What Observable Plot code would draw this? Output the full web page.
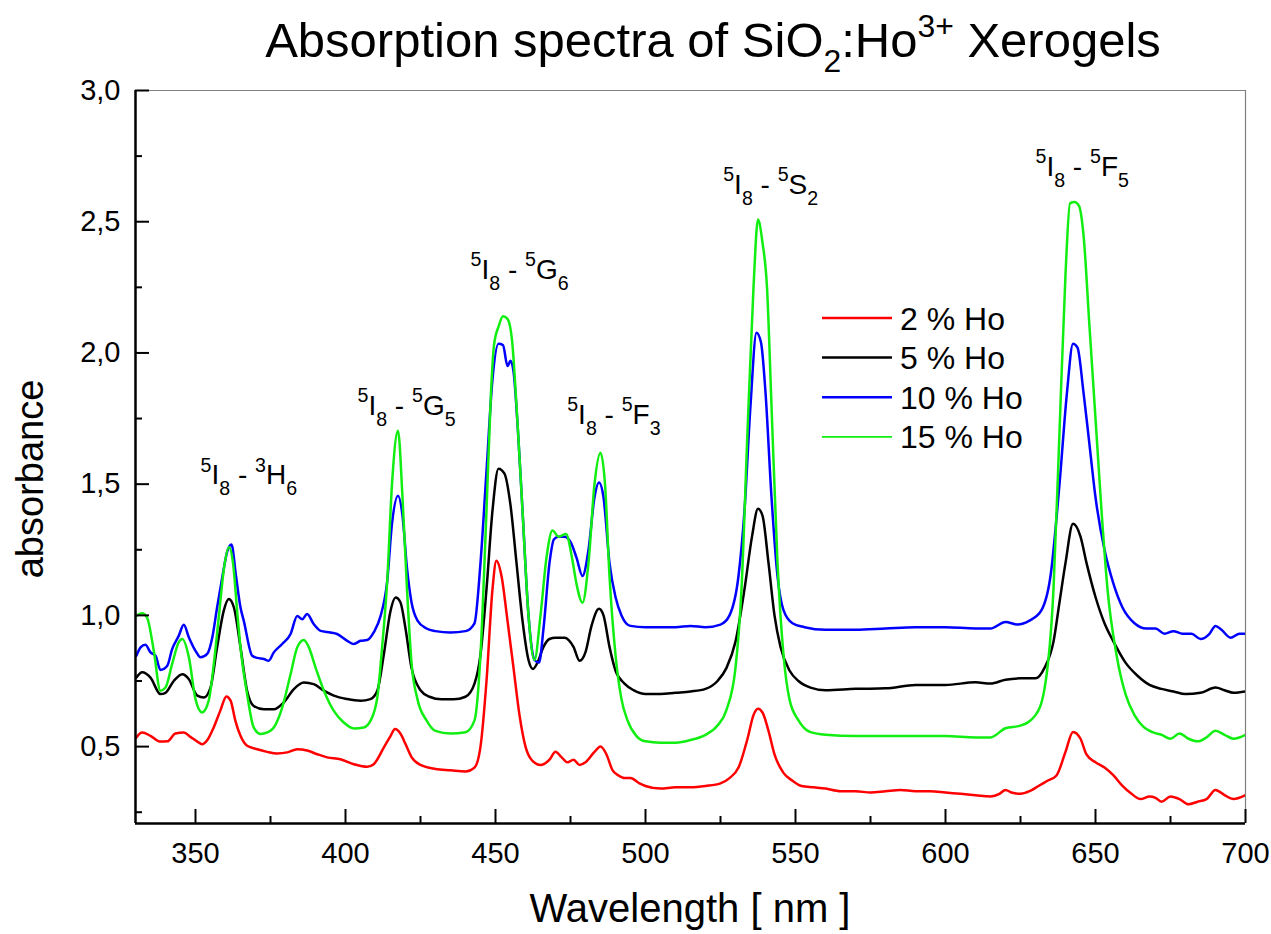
<!DOCTYPE html>
<html>
<head>
<meta charset="utf-8">
<script src="https://cdn.jsdelivr.net/npm/d3@7"></script>
<script src="https://cdn.jsdelivr.net/npm/@observablehq/plot@0.6"></script>
<style>
  html, body { margin: 0; padding: 0; background: #fff; }
  svg text { white-space: pre; }
</style>
</head>
<body>
<div id="chart"></div>
<script>
// ---------- data (wavelength nm, absorbance) ----------
const ho2 = [
  [330.3,0.535],[332.2,0.554],[335,0.541],[338.3,0.519],[340.6,0.52],[343.3,0.55],[346.1,0.554],[348.3,0.537],
  [350.6,0.519],[352.2,0.509],[353.9,0.524],[356.1,0.574],[358.3,0.638],[360.3,0.691],[361.7,0.675],[363.3,0.598],
  [365,0.541],[367.2,0.503],[370.6,0.49],[373.9,0.48],[377.2,0.474],[380.6,0.478],[383.9,0.49],[387.2,0.485],
  [390.6,0.471],[393.9,0.459],[398.3,0.452],[402.8,0.433],[407.2,0.423],[409.4,0.433],[412.8,0.497],[415,0.54],
  [416.5,0.567],[418.3,0.55],[420,0.51],[422,0.46],[425,0.43],[430,0.415],[435,0.41],[440,0.405],[443,0.42],
  [445,0.5],[447,0.75],[449,1.1],[450.3,1.208],[452,1.15],[454,0.98],[456,0.8],[458,0.62],[460,0.5],[462,0.45],
  [465,0.43],[468,0.45],[470,0.48],[472,0.46],[474,0.44],[476,0.45],[478,0.43],[480,0.44],[483,0.48],[485,0.5],
  [487,0.47],[489,0.41],[491,0.39],[493,0.38],[495,0.38],[498,0.36],[500,0.35],[505,0.34],[510,0.345],[515,0.345],
  [520,0.35],[525,0.36],[528,0.38],[531,0.42],[534,0.53],[536,0.62],[537.5,0.644],[539,0.63],[541,0.56],[543,0.47],
  [546,0.4],[549,0.37],[552,0.35],[556,0.345],[560,0.34],[565,0.33],[570,0.33],[575,0.325],[580,0.33],[585,0.335],
  [590,0.33],[595,0.33],[600,0.325],[605,0.32],[610,0.315],[615,0.31],[618,0.32],[620,0.335],[622,0.325],[625,0.32],
  [628,0.33],[631,0.35],[634,0.37],[637,0.39],[640,0.48],[642.5,0.556],[645,0.53],[647,0.47],[650,0.44],[653,0.42],
  [656,0.39],[659,0.35],[662,0.32],[665,0.3],[668,0.31],[670,0.305],[672,0.29],[675,0.31],[678,0.3],[681,0.28],
  [684,0.29],[687,0.3],[690,0.335],[693,0.315],[696,0.3],[700,0.315]
];
const ho5 = [
  [330.3,0.763],[332.2,0.783],[335,0.763],[338.3,0.7],[340,0.705],[342.8,0.751],[345.6,0.776],[347.8,0.757],
  [350.6,0.694],[352.8,0.687],[355,0.725],[357.2,0.878],[359.4,1.017],[361.1,1.062],[362.8,1.03],[365,0.878],
  [367.2,0.713],[369.4,0.655],[372.8,0.642],[376.1,0.642],[379.4,0.668],[382.8,0.719],[386.1,0.744],[389.4,0.738],
  [392.8,0.713],[396.1,0.694],[400.6,0.681],[405,0.675],[408.3,0.681],[410.6,0.713],[412.8,0.853],[415,1.017],
  [416.7,1.068],[418.3,1.05],[420,0.95],[422,0.8],[425,0.715],[428,0.69],[432,0.68],[436,0.68],[440,0.69],[443,0.74],
  [445,0.85],[447,1.1],[449,1.4],[451,1.559],[453,1.54],[455,1.42],[457,1.2],[459,0.98],[461,0.83],[462.5,0.796],
  [464,0.82],[466,0.88],[468,0.91],[470,0.915],[473,0.915],[476,0.88],[478,0.827],[480,0.86],[482,0.96],[484.5,1.025],
  [486,1.0],[488,0.88],[490,0.79],[493,0.74],[496,0.715],[500,0.7],[505,0.7],[510,0.705],[515,0.71],[520,0.72],
  [524,0.75],[527,0.8],[530,0.9],[533,1.1],[535.5,1.3],[537.5,1.406],[539,1.38],[541,1.2],[543,1.0],[545,0.88],
  [548,0.79],[551,0.75],[555,0.725],[560,0.715],[570,0.72],[580,0.722],[590,0.735],[600,0.735],[610,0.745],[615,0.74],
  [620,0.755],[625,0.76],[630,0.76],[633,0.8],[636,0.9],[638,1.05],[640,1.2],[642.5,1.349],[645,1.3],[647,1.2],
  [650,1.07],[653,0.97],[656,0.9],[660,0.82],[664,0.77],[668,0.735],[672,0.72],[676,0.71],[680,0.7],[685,0.705],
  [690,0.725],[693,0.715],[696,0.705],[700,0.71]
];
const ho10 = [
  [330.3,0.846],[331.7,0.878],[333.3,0.888],[335,0.859],[336.7,0.846],[338.3,0.792],[340.6,0.808],[342.2,0.871],
  [344.4,0.922],[346.1,0.964],[347.8,0.916],[350,0.865],[351.7,0.84],[353.9,0.853],[355.6,0.916],[357.2,1.03],
  [359,1.15],[360.5,1.24],[362,1.27],[363.5,1.15],[365,1.03],[366.1,0.979],[368.9,0.846],[370.6,0.838],[372.8,0.834],
  [374.4,0.827],[376.1,0.859],[378.9,0.891],[381.7,0.929],[383.9,0.998],[385.6,0.985],[387.2,1.005],[389.4,0.967],
  [391.7,0.941],[395,0.935],[397.2,0.929],[400.6,0.903],[402.8,0.891],[405,0.903],[407.2,0.906],[409.4,0.935],
  [411.7,0.998],[413.9,1.13],[415.5,1.35],[417.5,1.456],[419,1.38],[420.5,1.18],[422,1.05],[424,0.98],[427,0.95],
  [430,0.94],[435,0.935],[440,0.94],[443,0.97],[445,1.2],[447,1.55],[449,1.9],[451,2.035],[452.5,2.03],[454,1.95],
  [455,1.97],[456,1.93],[457.5,1.7],[459,1.4],[461,1.0],[463,0.83],[464.5,0.82],[466,0.95],[468,1.2],[469.5,1.29],
  [471,1.3],[473,1.3],[475,1.28],[477,1.22],[479,1.15],[481,1.25],[483,1.45],[484.5,1.506],[486,1.45],[488,1.2],
  [490,1.07],[492,1.0],[495,0.96],[500,0.955],[505,0.955],[510,0.955],[515,0.96],[520,0.955],[525,0.965],[528,1.0],
  [531,1.15],[533,1.4],[535,1.8],[537,2.077],[538.5,2.04],[540,1.85],[542,1.45],[544,1.15],[546,1.02],[549,0.97],
  [553,0.955],[560,0.945],[570,0.945],[580,0.95],[590,0.955],[600,0.955],[610,0.95],[615,0.95],[620,0.975],[624,0.965],
  [628,0.98],[632,1.02],[635,1.15],[638,1.5],[640.5,1.85],[642.5,2.035],[644,2.02],[646,1.85],[648,1.65],[650,1.45],
  [653,1.25],[656,1.12],[659,1.03],[663,0.97],[667,0.95],[670,0.95],[673,0.93],[676,0.94],[679,0.93],[682,0.93],
  [685,0.91],[688,0.93],[690,0.96],[692,0.945],[695,0.915],[698,0.93],[700,0.93]
];
const ho15 = [
  [330.3,0.998],[332.2,1.008],[333.9,0.99],[336.1,0.865],[338.3,0.713],[340,0.725],[342.2,0.814],[344.4,0.897],
  [345.6,0.91],[347.8,0.84],[350,0.681],[352.2,0.63],[354.4,0.675],[356.1,0.814],[357.8,0.998],[359.5,1.18],
  [361.2,1.26],[362.5,1.2],[364,1.0],[365,0.878],[367.2,0.7],[369.4,0.573],[371.7,0.548],[373.9,0.554],[376.1,0.573],
  [378.9,0.649],[381.7,0.776],[383.9,0.878],[386.1,0.906],[387.8,0.878],[390,0.802],[392.8,0.713],[396.1,0.636],
  [399.4,0.592],[402.8,0.569],[406.1,0.573],[408.3,0.598],[410.6,0.687],[412.2,0.878],[413.9,1.13],[415.5,1.5],
  [417.5,1.704],[419,1.45],[420.5,1.1],[422,0.82],[424,0.68],[427,0.6],[430,0.56],[435,0.55],[440,0.555],[443,0.6],
  [445,0.85],[447,1.4],[448.5,1.85],[449.5,2.03],[451,2.1],[452.5,2.14],[454,2.13],[455.5,2.05],[457,1.8],[459,1.4],
  [461,1.0],[463,0.83],[465,1.0],[467,1.22],[469,1.323],[471,1.3],[473.5,1.31],[475.5,1.22],[477,1.12],[479,1.048],
  [481,1.2],[483,1.5],[485,1.62],[486.5,1.5],[488,1.15],[490,0.85],[492,0.68],[494,0.6],[497,0.54],[500,0.52],
  [505,0.515],[510,0.515],[515,0.525],[520,0.545],[524,0.58],[527,0.64],[530,0.8],[532,1.1],[534,1.7],[536,2.25],
  [537.5,2.508],[539,2.42],[540.5,2.25],[542,1.8],[544,1.2],[546,0.85],[548,0.68],[551,0.6],[555,0.555],[560,0.545],
  [570,0.54],[580,0.54],[590,0.54],[600,0.54],[610,0.535],[615,0.535],[620,0.57],[625,0.58],[630,0.62],[633,0.72],
  [636,1.1],[638,1.7],[640,2.3],[641.5,2.57],[643,2.575],[644.5,2.56],[646,2.45],[648,2.1],[650,1.75],[652,1.4],
  [654,1.1],[657,0.85],[660,0.7],[663,0.62],[666,0.575],[669,0.555],[672,0.545],[675,0.53],[678,0.55],[681,0.53],
  [684,0.52],[687,0.535],[690,0.56],[693,0.545],[696,0.53],[700,0.545]
];

const seriesNames  = ["2 % Ho", "5 % Ho", "10 % Ho", "15 % Ho"];
const seriesColors = ["#ff0000", "#000000", "#0000ff", "#11ee11"];

// transition labels (markup: ^{..} superscript, _{..} subscript) and their anchor (nm, absorbance)
const annotLabels = ["^{5}I_{8} - ^{3}H_{6}", "^{5}I_{8} - ^{5}G_{5}", "^{5}I_{8} - ^{5}G_{6}",
                     "^{5}I_{8} - ^{5}F_{3}", "^{5}I_{8} - ^{5}S_{2}", "^{5}I_{8} - ^{5}F_{5}"];
const annotNm  = [351.7, 404.0, 441.7, 473.9, 525.9, 630.0];
const annotAbs = [1.50, 1.765, 2.282, 1.729, 2.606, 2.676];

const xMajor = [350, 400, 450, 500, 550, 600, 650, 700];
const xMinor = [375, 425, 475, 525, 575, 625, 675];
const yMajor = [0.5, 1.0, 1.5, 2.0, 2.5, 3.0];
const yMinor = [0.25, 0.75, 1.25, 1.75, 2.25, 2.75];

const xDomain = [330, 700];
const yDomain = [0.207, 3.0];

// ---------- chart ----------
const W = 1271, H = 934;
const mL = 135, mR = 26, mT = 90, mB = 111;
const frameW = W - mL - mR, frameH = H - mT - mB;

const toRows = (arr, name) => arr.map(([nm, a]) => ({nm, a, name}));
const allSeries = [ho2, ho5, ho10, ho15];

const annot = annotLabels.map((t, i) => ({t, nm: annotNm[i], a: annotAbs[i]}));

const fontFamily = "'Liberation Sans', Arial, Helvetica, sans-serif";
const annotF = 28;

const svg = Plot.plot({
  width: W, height: H,
  marginLeft: mL, marginRight: mR, marginTop: mT, marginBottom: mB,
  x: {domain: xDomain},
  y: {domain: yDomain},
  style: {fontFamily, background: "#fff", color: "#000", overflow: "visible"},
  marks: [
    ...allSeries.map((s, i) => Plot.line(toRows(s, seriesNames[i]), {
      x: "nm", y: "a", stroke: seriesColors[i], strokeWidth: 2.5, curve: "monotone-x", clip: true
    })),
    // frame: gray top/right, black left/bottom
    Plot.ruleY([yDomain[1]], {stroke: "#808080", strokeWidth: 1.2}),
    Plot.ruleX([xDomain[1]], {stroke: "#808080", strokeWidth: 1.2}),
    Plot.ruleX([xDomain[0]], {stroke: "#000", strokeWidth: 2.5}),
    Plot.ruleY([yDomain[0]], {stroke: "#000", strokeWidth: 2.5}),
    // inward ticks
    Plot.tickX(xMajor, {x: d => d, insetTop: frameH - 14, stroke: "#000", strokeWidth: 2}),
    Plot.tickX(xMinor, {x: d => d, insetTop: frameH - 7, stroke: "#000", strokeWidth: 2}),
    Plot.tickY(yMajor, {y: d => d, insetRight: frameW - 14, stroke: "#000", strokeWidth: 2}),
    Plot.tickY(yMinor, {y: d => d, insetRight: frameW - 7, stroke: "#000", strokeWidth: 2}),
    Plot.axisX({ticks: xMajor, tickSize: 0, tickPadding: 19, fontSize: 29, label: null, tickFormat: d => String(d)}),
    Plot.axisY({ticks: yMajor, tickSize: 0, tickPadding: 15, fontSize: 29, label: null,
                tickFormat: d => d.toFixed(1).replace(".", ",")}),
    Plot.text(annot, {x: "nm", y: "a", text: "t", textAnchor: "start", lineAnchor: "bottom", fontSize: annotF, fill: "#000"})
  ]
});

document.getElementById("chart").appendChild(svg);

// ---------- rich text (super/subscripts) ----------
const NS = "http://www.w3.org/2000/svg";
function rich(el, markup, F, ss = 0.7, sup = 0.45, sub = 0.4) {
  el.textContent = "";
  const re = /\^\{([^}]*)\}|_\{([^}]*)\}|([^\^_]+)/g;
  let m, cur = 0;
  while ((m = re.exec(markup))) {
    let str, shift, size;
    if (m[1] != null) { str = m[1]; shift = -sup * F; size = ss * F; }
    else if (m[2] != null) { str = m[2]; shift = sub * F; size = ss * F; }
    else { str = m[3]; shift = 0; size = F; }
    const t = document.createElementNS(NS, "tspan");
    t.textContent = str;
    t.setAttribute("font-size", size);
    if (shift !== cur) t.setAttribute("dy", (shift - cur).toFixed(2));
    cur = shift;
    el.appendChild(t);
  }
}

const root = d3.select(svg);
root.selectAll("text").each(function () {
  const s = this.textContent;
  if (/[\^_]\{/.test(s)) rich(this, s, annotF);
});

// title
const title = root.append("text")
  .attr("x", 713).attr("y", 57)
  .attr("text-anchor", "middle")
  .attr("font-family", fontFamily)
  .attr("font-size", 49)
  .attr("fill", "#000");
rich(title.node(), "Absorption spectra of SiO_{2}:Ho^{3+} Xerogels", 49, 0.65, 0.4, 0.3);

// axis titles
root.append("text")
  .attr("x", (mL + W - mR) / 2).attr("y", 922)
  .attr("text-anchor", "middle")
  .attr("font-family", fontFamily).attr("font-size", 40).attr("fill", "#000")
  .text("Wavelength [ nm ]");
root.append("text")
  .attr("transform", "translate(43,479) rotate(-90)")
  .attr("text-anchor", "middle")
  .attr("font-family", fontFamily).attr("font-size", 38).attr("fill", "#000")
  .text("absorbance");

// legend
const lg = root.append("g").attr("font-family", fontFamily).attr("font-size", 32).attr("text-anchor", "start");
seriesNames.forEach((name, i) => {
  const y = 318 + i * 39.6;
  lg.append("line").attr("x1", 822).attr("x2", 892).attr("y1", y).attr("y2", y)
    .attr("stroke", seriesColors[i]).attr("stroke-width", i === 3 ? 1.8 : 2.5);
  lg.append("text").attr("x", 900).attr("y", y).attr("dy", "0.36em")
    .attr("text-anchor", "start").attr("fill", "#000").text(name);
});
</script>
</body>
</html>
